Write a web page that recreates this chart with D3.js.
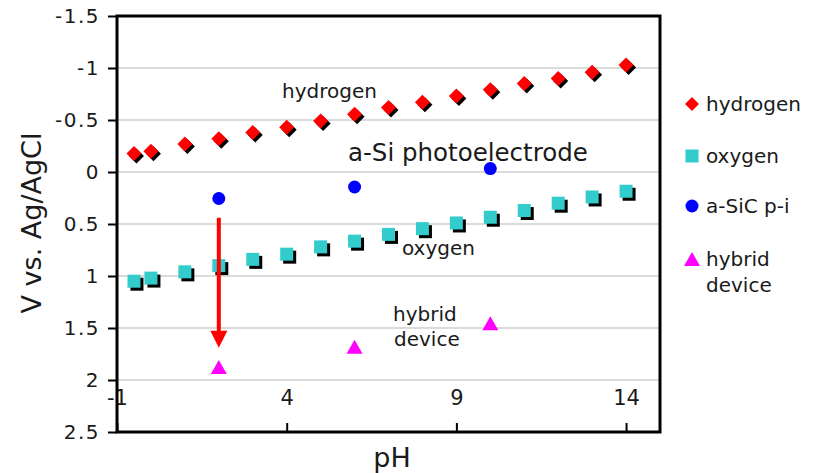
<!DOCTYPE html>
<html>
<head>
<meta charset="utf-8">
<script src="https://cdn.jsdelivr.net/npm/d3@7"></script>
<style>
  html, body { margin: 0; padding: 0; background: #fff; }
  svg { display: block; font-family: "DejaVu Sans", Verdana, sans-serif; }
</style>
</head>
<body>
<svg id="chart" width="817" height="473"></svg>
<script>
// pH values of the water-splitting reference potentials
const pH = [-0.5, 0, 1, 2, 3, 4, 5, 6, 7, 8, 9, 10, 11, 12, 13, 14];
// hydrogen evolution potential (V vs. Ag/AgCl)
const hydrogen = [-0.177, -0.20, -0.27, -0.32, -0.38, -0.43, -0.49, -0.555, -0.62, -0.67, -0.73, -0.79, -0.85, -0.90, -0.96, -1.03];
// oxygen evolution potential (V vs. Ag/AgCl)
const oxygen = [1.05, 1.02, 0.96, 0.90, 0.84, 0.79, 0.72, 0.665, 0.60, 0.545, 0.49, 0.435, 0.37, 0.30, 0.24, 0.185];
// a-SiC p-i photocathode onset
const sicPH = [2, 6, 10];
const sicV = [0.255, 0.144, -0.033];
// hybrid device onset
const hybridPH = [2, 6, 10];
const hybridV = [1.875, 1.68, 1.455];
// shift arrow at pH 2
const arrowPH = 2, arrowFrom = 0.44, arrowTo = 1.69;

const yTicks = [-1.5, -1, -0.5, 0, 0.5, 1, 1.5, 2, 2.5];
const xTicks = [-1, 4, 9, 14];
const legendItems = [["hydrogen"], ["oxygen"], ["a-SiC p-i"], ["hybrid", "device"]];

const svg = d3.select("#chart");
const L = 117, R = 660, T = 16, B = 432;
const x = d3.scaleLinear().domain([-1, 15]).range([L, R]);
const y = d3.scaleLinear().domain([-1.5, 2.5]).range([T, B]);

const textCol = "#1a1a1a";

// gridlines
svg.append("g").selectAll("line").data(yTicks.slice(1, -1)).join("line")
  .attr("x1", L).attr("x2", R)
  .attr("y1", d => y(d)).attr("y2", d => y(d))
  .attr("stroke", "#cfcfcf").attr("stroke-width", 1.5);

// y axis
const yAxis = d3.axisLeft(y).tickValues(yTicks).tickSize(9).tickPadding(8)
  .tickFormat(d => String(d));
const gy = svg.append("g").attr("transform", `translate(${L},0)`).call(yAxis);
gy.select(".domain").remove();
gy.selectAll(".tick line").attr("stroke", "#000").attr("stroke-width", 2);
gy.selectAll(".tick text").attr("fill", textCol).style("font-size", "20px")
  .style("letter-spacing", "1.5px").attr("font-family", "DejaVu Sans");

// x axis: ticks point up from the bottom edge, labels sit inside the plot
const xAxis = d3.axisTop(x).tickValues(xTicks).tickSize(9).tickPadding(0).tickFormat(d => String(d));
const gx = svg.append("g").attr("transform", `translate(0,${B})`).call(xAxis);
gx.select(".domain").remove();
gx.selectAll(".tick line").attr("stroke", "#000").attr("stroke-width", 2);
gx.selectAll(".tick text").attr("fill", textCol).style("font-size", "21px")
  .attr("font-family", "DejaVu Sans").attr("y", -27).attr("dy", 0);

// plot frame
svg.append("rect").attr("x", L).attr("y", T).attr("width", R - L).attr("height", B - T)
  .attr("fill", "none").attr("stroke", "#000").attr("stroke-width", 3);

// axis titles
svg.append("text").attr("x", 392).attr("y", 467).attr("text-anchor", "middle")
  .attr("fill", textCol).style("font-size", "27px").text("pH");
svg.append("text").attr("transform", "translate(41,223) rotate(-90)").attr("text-anchor", "middle")
  .attr("fill", textCol).style("font-size", "27px").text("V vs. Ag/AgCl");

// marker shapes
const diamond = s => `M0,${-s}L${s},0L0,${s}L${-s},0Z`;
const square = s => `M${-s},${-s}h${2 * s}v${2 * s}h${-2 * s}Z`;
const triangle = (w, h) => `M0,${-h / 2}L${w / 2},${h / 2}L${-w / 2},${h / 2}Z`;

const plot = svg.append("g");

// hydrogen: red diamonds with drop shadow
const hyd = pH.map((p, i) => [p, hydrogen[i]]);
plot.append("g").selectAll("path").data(hyd).join("path")
  .attr("d", diamond(7.5)).attr("fill", "#000")
  .attr("transform", d => `translate(${x(d[0]) + 2.5},${y(d[1]) + 2.5})`);
plot.append("g").selectAll("path").data(hyd).join("path")
  .attr("d", diamond(7.5)).attr("fill", "#ff0000")
  .attr("transform", d => `translate(${x(d[0])},${y(d[1])})`);

// oxygen: teal squares with drop shadow
const oxy = pH.map((p, i) => [p, oxygen[i]]);
plot.append("g").selectAll("path").data(oxy).join("path")
  .attr("d", square(6.5)).attr("fill", "#000")
  .attr("transform", d => `translate(${x(d[0]) + 3},${y(d[1]) + 3})`);
plot.append("g").selectAll("path").data(oxy).join("path")
  .attr("d", square(6.5)).attr("fill", "#33cccc")
  .attr("transform", d => `translate(${x(d[0])},${y(d[1])})`);

// a-SiC p-i: blue circles
plot.append("g").selectAll("circle").data(sicPH.map((p, i) => [p, sicV[i]])).join("circle")
  .attr("cx", d => x(d[0])).attr("cy", d => y(d[1])).attr("r", 6.5).attr("fill", "#0000ff");

// hybrid device: magenta triangles
plot.append("g").selectAll("path").data(hybridPH.map((p, i) => [p, hybridV[i]])).join("path")
  .attr("d", triangle(16, 14)).attr("fill", "#ff00ff")
  .attr("transform", d => `translate(${x(d[0])},${y(d[1])})`);

// red arrow from a-Si oxygen onset down to the hybrid device
const ax = x(arrowPH), ay0 = y(arrowFrom), ay1 = y(arrowTo);
svg.append("line").attr("x1", ax).attr("x2", ax).attr("y1", ay0).attr("y2", ay1 - 14)
  .attr("stroke", "#ff0000").attr("stroke-width", 4);
svg.append("path").attr("d", `M${ax - 8.5},${ay1 - 17}L${ax + 8.5},${ay1 - 17}L${ax},${ay1}Z`)
  .attr("fill", "#ff0000");

// in-plot annotations
const notes = [
  { t: "hydrogen", x: 282, y: 98, s: 20 },
  { t: "a-Si photoelectrode", x: 348, y: 161, s: 24.5 },
  { t: "oxygen", x: 402, y: 255, s: 20 },
  { t: "hybrid", x: 393, y: 321, s: 20 },
  { t: "device", x: 394, y: 346, s: 20 }
];
svg.append("g").selectAll("text").data(notes).join("text")
  .attr("x", d => d.x).attr("y", d => d.y).attr("fill", textCol)
  .style("font-size", d => d.s + "px").text(d => d.t);

// legend
const lx = 692, ltx = 706;
const legY = [104, 156, 206, 259];
const lg = svg.append("g");
lg.append("path").attr("d", diamond(7)).attr("fill", "#ff0000").attr("transform", `translate(${lx},${legY[0]})`);
lg.append("path").attr("d", square(6.5)).attr("fill", "#33cccc").attr("transform", `translate(${lx},${legY[1]})`);
lg.append("circle").attr("cx", lx).attr("cy", legY[2]).attr("r", 6.5).attr("fill", "#0000ff");
lg.append("path").attr("d", triangle(16, 14)).attr("fill", "#ff00ff").attr("transform", `translate(${lx},${legY[3]})`);
legendItems.forEach((lines, i) => {
  lines.forEach((ln, j) => {
    lg.append("text").attr("x", ltx).attr("y", legY[i] + 7 + j * 26)
      .attr("fill", textCol).style("font-size", "20px").text(ln);
  });
});
</script>
</body>
</html>
